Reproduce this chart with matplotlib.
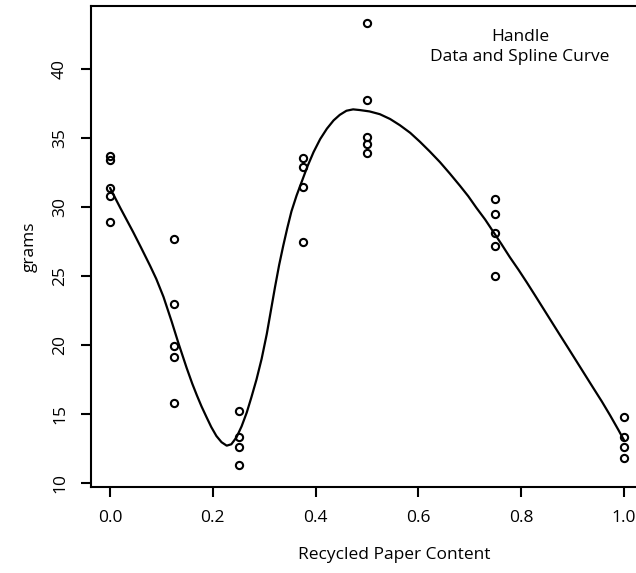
import numpy as np
import matplotlib
matplotlib.use("Agg")
import matplotlib.pyplot as plt

# observed handle strength (grams) at each recycled paper content level
content = [0.0] * 5 + [0.125] * 5 + [0.25] * 4 + [0.375] * 4 + [0.5] * 5 + [0.75] * 5 + [1.0] * 4
grams = [33.7, 33.4, 31.4, 30.8, 28.9,
         27.7, 23.0, 19.9, 19.1, 15.8,
         15.2, 13.3, 12.6, 11.3,
         33.6, 32.9, 31.5, 27.5,
         43.4, 37.8, 35.1, 34.6, 33.9,
         30.6, 29.5, 28.1, 27.2, 25.0,
         14.8, 13.3, 12.6, 11.8]

# spline curve
spline_x = [0.0, 0.02, 0.045, 0.06, 0.078, 0.09, 0.104, 0.12, 0.133, 0.149,
            0.16, 0.169, 0.178, 0.188, 0.197, 0.207, 0.217, 0.227, 0.236, 0.246,
            0.256, 0.266, 0.275, 0.285, 0.295, 0.305, 0.313, 0.321, 0.329, 0.337,
            0.345, 0.353, 0.363, 0.373, 0.384, 0.396, 0.409, 0.422, 0.435, 0.447,
            0.46, 0.473, 0.486, 0.505, 0.525, 0.545, 0.564, 0.584, 0.603, 0.622,
            0.642, 0.661, 0.681, 0.697, 0.713, 0.73, 0.746, 0.762, 0.778, 0.795,
            0.811, 0.827, 0.843, 0.859, 0.875, 0.892, 0.908, 0.924, 0.94, 0.957,
            0.973, 0.989, 1.0]
spline_y = [31.4, 29.95, 28.2, 27.1, 25.75, 24.8, 23.5, 21.7, 20.15, 18.35,
            17.2, 16.35, 15.55, 14.75, 14.05, 13.4, 12.95, 12.7, 12.8, 13.3,
            14.1, 15.1, 16.2, 17.5, 19.0, 20.8, 22.5, 24.2, 25.8, 27.2,
            28.5, 29.7, 30.85, 31.85, 32.95, 34.0, 34.95, 35.7, 36.3, 36.7,
            37.0, 37.1, 37.05, 36.95, 36.75, 36.4, 35.95, 35.4, 34.75, 34.05,
            33.27, 32.45, 31.55, 30.8, 29.95, 29.1, 28.2, 27.3, 26.37, 25.45,
            24.54, 23.6, 22.65, 21.7, 20.75, 19.75, 18.8, 17.85, 16.9, 15.9,
            14.9, 13.85, 13.1]

xticks = [0.0, 0.2, 0.4, 0.6, 0.8, 1.0]
yticks = [10, 15, 20, 25, 30, 35, 40]

plt.rcParams['font.family'] = ['Open Sans', 'DejaVu Sans']

fig = plt.figure(figsize=(6.36, 5.73), dpi=100)
ax = fig.add_axes([91 / 636, 1 - 487 / 573, 552 / 636, 481 / 573])

ax.plot(spline_x, spline_y, color='black', lw=1.6, solid_capstyle='round',
        solid_joinstyle='round')
ax.plot(content, grams, 'o', mfc='none', mec='black', ms=5.2, mew=1.5)

ax.set_xlim(-0.037, 1.037)
ax.set_ylim(9.7, 44.6)
ax.set_xticks(xticks)
ax.set_xticklabels([f"{t:.1f}" for t in xticks])
ax.set_yticks(yticks)
ax.set_yticklabels([str(t) for t in yticks], rotation=90, va='center')
ax.tick_params(axis='both', direction='out', length=7.5, width=1.5,
               labelsize=12.5, colors='black', pad=9)
for s in ax.spines.values():
    s.set_linewidth(1.5)

ax.set_ylabel("grams", fontsize=12.5, labelpad=10)
fig.text(394 / 636, 1 - 555 / 573, "Recycled Paper Content", fontsize=12.5,
         ha='center', va='center')

ax.text(520 / 636, 1 - 47 / 573, "Handle\nData and Spline Curve", transform=fig.transFigure,
        fontsize=12.5, ha='center', va='center', linespacing=1.35)

fig.savefig("out.png", dpi=100)
